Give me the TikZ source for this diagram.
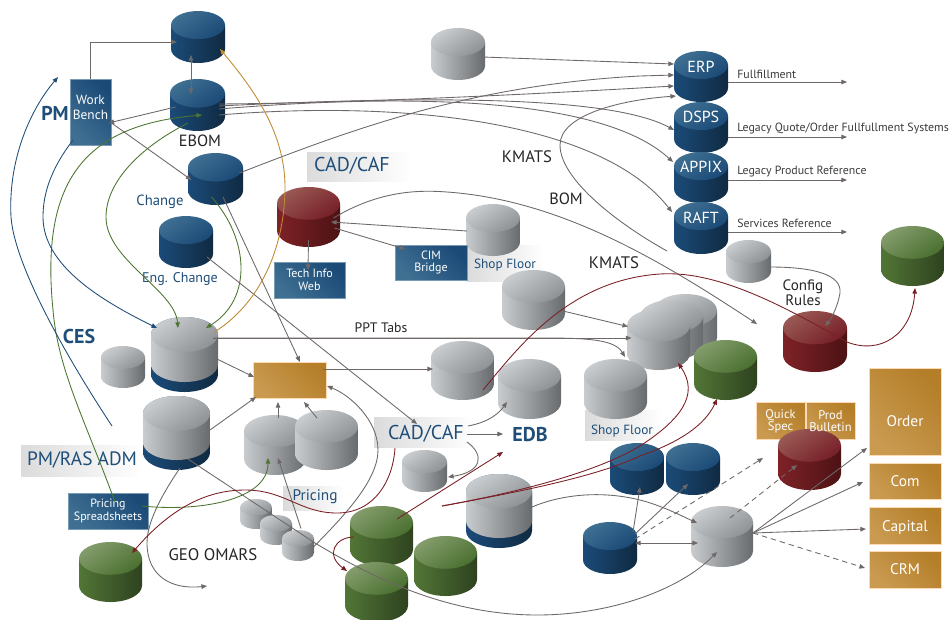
\documentclass[tikz,border=0pt]{standalone}
\usepackage{fontspec}
\setmainfont{PT Sans}
\usetikzlibrary{arrows.meta}
\definecolor{blueTL}{HTML}{3F7092}\definecolor{blueTR}{HTML}{1B4A77}\definecolor{blueBL}{HTML}{1B4B78}\definecolor{blueBR}{HTML}{102A42}
\definecolor{greyTL}{HTML}{C9CDD0}\definecolor{greyTR}{HTML}{8E9295}\definecolor{greyBL}{HTML}{C8CCCF}\definecolor{greyBR}{HTML}{686B6E}
\definecolor{greenTL}{HTML}{849C6C}\definecolor{greenTR}{HTML}{4A7030}\definecolor{greenBL}{HTML}{527636}\definecolor{greenBR}{HTML}{2E421F}
\definecolor{redTL}{HTML}{9A5A55}\definecolor{redTR}{HTML}{761F27}\definecolor{redBL}{HTML}{7E2227}\definecolor{redBR}{HTML}{4C1214}
\definecolor{lineg}{HTML}{6E6868}\definecolor{lineblue}{HTML}{1F4E79}\definecolor{linegreen}{HTML}{4D7530}\definecolor{linered}{HTML}{7A1F26}\definecolor{lineorange}{HTML}{C08A30}
\definecolor{titleblue}{HTML}{1F4E79}\definecolor{darktext}{HTML}{262626}
\newcommand\cylshape[5]{%
 \pgfmathsetmacro\cxa{(#1+#3)/2}\pgfmathsetmacro\rxa{(#3-#1)/2}\pgfmathsetmacro\rya{(#3-#1)*0.26}
 \pgfmathsetmacro\yta{#2+\rya}\pgfmathsetmacro\yba{#4-\rya}\pgfmathsetmacro\kxa{0.5523*\rxa}\pgfmathsetmacro\kya{0.5523*\rya}
 \shade[top color=#5BL,bottom color=#5BR,shading angle=90]
   (#1,\yta) -- (#1,\yba) .. controls (#1,\yba+\kya) and (\cxa-\kxa,#4) .. (\cxa,#4) .. controls (\cxa+\kxa,#4) and (#3,\yba+\kya) .. (#3,\yba) -- (#3,\yta) -- cycle;
 \shade[top color=#5TL,bottom color=#5TR,shading angle=35]
   (#1,\yta) .. controls (#1,\yta-\kya) and (\cxa-\kxa,#2) .. (\cxa,#2) .. controls (\cxa+\kxa,#2) and (#3,\yta-\kya) .. (#3,\yta) .. controls (#3,\yta+\kya) and (\cxa+\kxa,\yta+\rya) .. (\cxa,\yta+\rya) .. controls (\cxa-\kxa,\yta+\rya) and (#1,\yta+\kya) .. (#1,\yta) -- cycle;
}
% name x0 y0 x1 y1 palette
\newcommand\cyl[6]{\cylshape{#2}{#3}{#4}{#5}{#6}
 \node[anchorpt] (#1) at ({(#2+#4)/2},{(#3+#5)/2}) {};}
% two-tone: grey over navy
\newcommand\bicyl[5]{\cylshape{#2}{#3}{#4}{#5}{blue}\cylshape{#2}{#3}{#4}{#5-10}{grey}
 \node[anchorpt] (#1) at ({(#2+#4)/2},{(#3+#5)/2}) {};}
\tikzset{
 x=0.75pt,y=-0.75pt,
 anchorpt/.style={inner sep=0pt,minimum size=0pt,outer sep=0pt},
 arr/.style={draw=lineg,line width=.65pt,-{Triangle[length=4.2pt,width=3.4pt]}},
 arrb/.style={draw=lineg,line width=.65pt,{Triangle[length=4.2pt,width=3.4pt]}-{Triangle[length=4.2pt,width=3.4pt]}},
 arrd/.style={arr,dash pattern=on 4pt off 3pt},
 arrblue/.style={arr,draw=lineblue},
 arrgreen/.style={arr,draw=linegreen},
 arrred/.style={arr,draw=linered},
 arrorange/.style={arr,draw=lineorange},
 bluebox/.style={inner sep=0pt,align=center,text=white,draw=blueTL!70!white,line width=.5pt,bottom color=blueTL,top color=blueTR,shading angle=-45,font=\fontsize{9}{9.6}\selectfont},
 orbox/.style={inner sep=0pt,align=center,text=white,draw=orange!30!white,line width=.5pt,bottom color=orL,top color=orR,shading angle=-45},
 boxtext/.style={inner sep=0pt,align=center,text=white},
 lblblue/.style={text=titleblue,inner sep=0pt},
 lbldark/.style={text=darktext,inner sep=0pt,align=center},
 small/.style={text=darktext!90,inner sep=0pt,anchor=west,font=\fontsize{8.9}{10}\selectfont},
 cyltext/.style={text=white,inner sep=0pt,font=\fontsize{12}{12}\selectfont},
}
\definecolor{orL}{HTML}{C99A50}\definecolor{orR}{HTML}{B57F2A}
\begin{document}
\begin{tikzpicture}
\useasboundingbox (0,0) rectangle (949,619);
\fill[white] (0,0) rectangle (949,619);
% gradient label backgrounds
\shade[left color=black!14,right color=white] (307,152) rectangle (412,181);
\shade[left color=black!14,right color=white] (21,445) rectangle (142,476);
\shade[left color=black!14,right color=white] (283,486) rectangle (345,510);
\shade[left color=black!14,right color=white] (374,417) rectangle (475,447);
\shade[left color=black!14,right color=white] (585,410) rectangle (662,440);
\shade[left color=black!14,right color=white] (467,245) rectangle (545,281);
% cylinders
\cyl{top}{171}{11}{225}{63}{blue}
\cyl{ebom}{170}{79}{225}{131}{blue}
\cyl{chg}{188}{153}{243}{205}{blue}
\cyl{eng}{159}{216}{213}{268}{blue}
\cyl{redc}{277}{187}{340}{247}{red}
\cyl{shopA}{466}{204}{520}{256}{grey}
\cyl{gtop}{431}{28}{485}{80}{grey}
\cyl{erp}{674}{51}{728}{102}{blue}
\cyl{dsps}{674}{102}{728}{153}{blue}
\cyl{appix}{674}{152}{728}{203}{blue}
\cyl{raft}{674}{202}{728}{254}{blue}
\cyl{cfgs}{726}{240}{771}{283}{grey}
\cyl{gtr}{881}{226}{944}{286}{green}
\cyl{cfg}{783}{311}{847}{372}{red}
\cyl{gfive}{502}{270}{565}{330}{grey}
\cyl{stc}{654}{294}{717}{354}{grey}
\cyl{stb}{640}{300}{703}{360}{grey}
\cyl{sta}{627}{309}{690}{370}{grey}
\cyl{gnear}{694}{340}{757}{400}{green}
\cyl{ga}{431}{341}{494}{400}{grey}
\cyl{gb}{498}{359}{561}{419}{grey}
\cyl{shopB}{584}{359}{647}{419}{grey}
\bicyl{ces}{151}{317}{218}{392}
\cyl{sml}{101}{346}{145}{388}{grey}
\bicyl{pras}{143}{396}{210}{470}
\cyl{pca}{244}{415}{306}{475}{grey}
\cyl{pcb}{295}{410}{358}{470}{grey}
\cyl{sa}{240}{499}{272}{529}{grey}
\cyl{sb}{260}{515}{292}{545}{grey}
\cyl{sc}{282}{530}{314}{561}{grey}
\cyl{ggl}{79}{542}{142}{602}{green}
\cyl{smg}{402}{450}{447}{492}{grey}
\bicyl{big}{466}{474}{532}{548}
\cyl{ggb}{414}{536}{477}{596}{green}
\cyl{gga}{350}{506}{413}{566}{green}
\cyl{ggc}{345}{562}{408}{622}{green}
\cyl{ba}{610}{443}{664}{495}{blue}
\cyl{bb}{666}{443}{720}{495}{blue}
\cyl{bl}{583}{522}{637}{574}{blue}
\cyl{hub}{691}{506}{753}{567}{grey}
% boxes
\node[bluebox,minimum width=30.75pt,minimum height=49.5pt] (wb) at (90.5,112) {};
\node[boxtext,font=\fontsize{10}{11.3}\selectfont] at (90.5,107) {Work\\Bench};
\node[bluebox,minimum width=53.25pt,minimum height=27pt] (tech) at (309.5,280) {Tech Info\\Web};
\node[bluebox,minimum width=54pt,minimum height=26.25pt] (cim) at (431,262.5) {CIM\\Bridge};
\node[bluebox,minimum width=60pt,minimum height=27pt] (ss) at (108,511) {Pricing\\Spreadsheets};
\node[orbox,minimum width=54.75pt,minimum height=27pt] (ob) at (289.5,380) {};
\node[orbox,minimum width=36.5pt,minimum height=27.75pt] (qs) at (780.5,420.5) {};
\node[orbox,minimum width=36.5pt,minimum height=27.75pt] (pb) at (830.5,420.5) {};
\cyl{bul}{778}{429}{841}{490}{red}
\node[boxtext,font=\fontsize{9.4}{8.8}\selectfont] at (780.5,421) {Quick\\Spec};
\node[boxtext,font=\fontsize{9.4}{8.8}\selectfont] at (830.5,421) {Prod\\Bulletin};
\node[orbox,minimum width=54pt,minimum height=65.25pt] (order) at (905,411.5) {};
\node[boxtext,font=\fontsize{11.5}{12}\selectfont] at (905,421) {Order};
\node[orbox,minimum width=54pt,minimum height=27pt,font=\fontsize{11.5}{12}\selectfont] (com) at (905,481) {Com};
\node[orbox,minimum width=54pt,minimum height=27.75pt] (cap) at (905,525.5) {};
\node[boxtext,font=\fontsize{11.5}{12}\selectfont] at (905,527.5) {Capital};
\node[orbox,minimum width=54pt,minimum height=27.75pt,font=\fontsize{11.5}{12}\selectfont] (crm) at (905,569.5) {CRM};
% cylinder titles
\node[cyltext] at (701,67) {ERP};
\node[cyltext] at (701,117) {DSPS};
\node[cyltext] at (701,167) {APPIX};
\node[cyltext] at (701,218) {RAFT};
% labels
\node[lblblue,font=\fontsize{15}{15}\selectfont\bfseries] (pm) at (55,113) {PM};
\node[lbldark,font=\fontsize{12.2}{12}\selectfont] at (200,141) {EBOM};
\node[lblblue,font=\fontsize{11}{12}\selectfont] at (160,202) {Change};
\node[lblblue,font=\fontsize{10.5}{12}\selectfont] at (180,279) {Eng. Change};
\node[lblblue,font=\fontsize{15}{15}\selectfont] (cadA) at (352,166) {CAD/CAF};
\node[lblblue,font=\fontsize{10}{12}\selectfont] at (505,265) {Shop Floor};
\node[lbldark,font=\fontsize{12.5}{12}\selectfont] at (527,157) {KMATS};
\node[lbldark,font=\fontsize{12.2}{12}\selectfont] at (566,199) {BOM};
\node[lbldark,font=\fontsize{12.5}{12}\selectfont] at (614,263) {KMATS};
\node[lbldark,font=\fontsize{11.3}{11.5}\selectfont] at (803,293) {Config\\Rules};
\node[lbldark,font=\fontsize{10.3}{10}\selectfont] at (381,328) {PPT Tabs};
\node[lblblue,font=\fontsize{15}{15}\selectfont\bfseries] at (79,336) {CES};
\node[lblblue,font=\fontsize{14.5}{15}\selectfont] at (82,460) {PM/RAS ADM};
\node[lblblue,font=\fontsize{11.5}{12}\selectfont] at (315,497) {Pricing};
\node[lbldark,font=\fontsize{12.6}{12}\selectfont] at (213,555) {GEO OMARS};
\node[lblblue,font=\fontsize{15}{15}\selectfont] (cadB) at (426,434) {CAD/CAF};
\node[lblblue,font=\fontsize{15}{15}\selectfont\bfseries] (edb) at (530,434) {EDB};
\node[lblblue,font=\fontsize{10}{12}\selectfont] at (622,431) {Shop Floor};
\node[small] at (737,74) {Fullfillment};
\node[small] at (737,129) {Legacy Quote/Order Fullfullment Systems};
\node[small] at (737,172) {Legacy Product Reference};
\node[small] at (737,223) {Services Reference};
% free ends
\coordinate (ofa) at (847,82);
\coordinate (ofb) at (847,137);
\coordinate (ofc) at (847,180);
\coordinate (ofd) at (847,232);
\coordinate (kmf) at (667,251);
\coordinate (bomf) at (757,324);
\coordinate (admf) at (112,426);
\coordinate (pmf) at (58,77);
\coordinate (geof) at (207,586);
\coordinate (rfr) at (442,506);
\coordinate (dashf) at (763,458);
% grey connectors
\draw[arr] (wb.north) |- ([shift={(-21,5)}]top.center);
\draw[arrb] ([shift={(-7,18)}]top.center) -- ([shift={(-6.5,-11)}]ebom.center);
\draw[arr] ([shift={(-22,2)}]ebom.center) -- ([shift={(18,11)}]wb.center);
\draw[arr] ([shift={(21,11)}]wb.center) -- ([shift={(-24,1)}]chg.center);
\draw[arr] ([shift={(24,-6)}]chg.center) .. controls (350,130) and (470,85) .. (640,76) -- ([shift={(-27,-1.5)}]erp.center);
\draw[arr] ([shift={(21.5,-1)}]ebom.center) .. controls (350,103) and (520,95) .. ([shift={(-27,9.5)}]erp.center);
\draw[arr] ([shift={(21.5,1)}]ebom.center) .. controls (420,96) and (610,95) .. ([shift={(-27,2.5)}]dsps.center);
\draw[arr] ([shift={(21.5,4)}]ebom.center) .. controls (400,94) and (600,95) .. ([shift={(-28,-15.5)}]appix.center);
\draw[arr] ([shift={(21.5,10)}]ebom.center) .. controls (400,100) and (600,120) .. ([shift={(-29,-16)}]raft.center);
\draw[arr] ([shift={(25,3)}]gtop.center) -- ([shift={(-27,-12.5)}]erp.center);
\draw[arr] (kmf) .. controls (620,225) and (560,180) .. (560,145) .. controls (560,115) and (620,100) .. ([shift={(-25,19.5)}]erp.center);
\draw[arr] ([shift={(27,5.5)}]erp.center) -- (ofa);
\draw[arr] ([shift={(27,9.5)}]dsps.center) -- (ofb);
\draw[arr] ([shift={(27,2.5)}]appix.center) -- (ofc);
\draw[arr] ([shift={(27,4)}]raft.center) -- (ofd);
\draw[arr] ([shift={(0,23)}]redc.center) -- ([shift={(-1.5,-10)}]tech.center);
\draw[arr] ([shift={(-26,1)}]shopA.center) -- ([shift={(22.5,5)}]redc.center);
\draw[arr] ([shift={(26,11)}]redc.center) -- ([shift={(-26,-13.5)}]cim.center);
\draw[arr] ([shift={(25,1)}]redc.center) .. controls (380,190) and (420,190) .. (447,192) .. controls (560,200) and (660,260) .. (bomf);
\draw[arr] ([shift={(21.5,5.5)}]cfgs.center) .. controls (815,267) and (842,275) .. (840,293) .. controls (838,305) and (832,318) .. ([shift={(10,-15.5)}]cfg.center);
\draw[arr] ([shift={(28.5,-16.5)}]ces.center) -- ([shift={(-27,-1.5)}]sta.center);
\draw[arr] ([shift={(28.5,-16.5)}]ces.center) -- (545,338) .. controls (590,338) and (615,340) .. ([shift={(9.5,-32)}]shopB.center);
\draw[arr] ([shift={(29.5,11)}]gfive.center) -- ([shift={(-30.5,-13)}]sta.center);
\draw[arr] ([shift={(32.5,4.5)}]ces.center) -- ([shift={(-35.5,-3)}]ob.center);
\draw[arr] ([shift={(33.5,-3)}]pras.center) -- ([shift={(-33.5,17)}]ob.center);
\draw[arr] ([shift={(3,-27)}]pca.center) -- ([shift={(-11.5,22)}]ob.center);
\draw[arr] ([shift={(-9.5,-22)}]pcb.center) -- ([shift={(14.5,22)}]ob.center);
\draw[arr] ([shift={(33.5,-11)}]ob.center) -- ([shift={(-29.5,-1.5)}]ga.center);
\draw[arr] ([shift={(15,2)}]sc.center) .. controls (345,515) and (378,480) .. (378,450) .. controls (378,420) and (350,395) .. ([shift={(37.5,6)}]ob.center);
\draw[arr] ([shift={(3,-17)}]sc.center) -- ([shift={(3,13)}]pca.center);
\draw[arr] ([shift={(11.5,26)}]pras.center) -- (315,543) .. controls (360,570) and (440,615) .. (537,615) .. controls (610,615) and (680,590) .. ([shift={(-5,15.5)}]hub.center);
\draw[arr] ([shift={(3.5,35)}]pras.center) .. controls (165,490) and (147,520) .. (147,543) .. controls (147,575) and (170,590) .. (geof);
\draw[arr] ([shift={(33,-4)}]big.center) .. controls (560,495) and (600,490) .. (640,500) .. controls (660,505) and (680,515) .. ([shift={(-25,-13.5)}]hub.center);
\draw[arr] ([shift={(23,-16)}]bl.center) -- ([shift={(3,18)}]ba.center);
\draw[arr] ([shift={(25,-14)}]bl.center) -- ([shift={(-5,15)}]bb.center);
\draw[arrd] ([shift={(25,-9)}]bl.center) -- (dashf);
\draw[arrb] ([shift={(25,-5)}]bl.center) -- ([shift={(-24,6.5)}]hub.center);
\draw[arrd] ([shift={(8,-18.5)}]hub.center) -- ([shift={(-12.5,5.5)}]bul.center);
\draw[arr] ([shift={(31,-3.5)}]hub.center) -- ([shift={(-38,36.5)}]order.center);
\draw[arr] ([shift={(31,-3.5)}]hub.center) -- ([shift={(-42,1)}]com.center);
\draw[arr] ([shift={(31,-3.5)}]hub.center) -- ([shift={(-39,3.5)}]cap.center);
\draw[arrd] ([shift={(31,-3.5)}]hub.center) -- ([shift={(-40,-1.5)}]crm.center);
\draw[arr] ([shift={(41,0)}]cadB.center) -- ([shift={(-27,0)}]edb.center);
\draw[arr] ([shift={(42,-8)}]cadB.center) .. controls (490,422) and (500,412) .. ([shift={(-22.5,13)}]gb.center);
\draw[arr] ([shift={(41,8)}]cadB.center) .. controls (485,455) and (482,472) .. ([shift={(23.5,6)}]smg.center);
\draw[arr] ([shift={(21,15)}]eng.center) -- ([shift={(-9,-10)}]cadB.center);
\draw[arr] ([shift={(7.5,18)}]chg.center) -- ([shift={(10.5,-18)}]ob.center);
% green
\draw[arrgreen] ([shift={(-4,18)}]chg.center) .. controls (250,240) and (252,300) .. ([shift={(21.5,-26.5)}]ces.center);
\draw[arrgreen] ([shift={(-9.5,18)}]ebom.center) .. controls (135,150) and (106,185) .. (106,217) .. controls (106,260) and (175,290) .. ([shift={(-6.5,-26.5)}]ces.center);
\draw[arrgreen] ([shift={(7,-9)}]ss.center) .. controls (85,420) and (58,370) .. (53,310) .. controls (40,180) and (85,125) .. ([shift={(4.5,10)}]ebom.center);
\draw[arrgreen] ([shift={(34,-5)}]ss.center) .. controls (200,512) and (268,500) .. ([shift={(-7,13)}]pca.center);
% blue
\draw[arrblue] ([shift={(-17.5,28)}]wb.center) .. controls (50,170) and (43,195) .. (43,217) .. controls (43,265) and (100,300) .. ([shift={(-27.5,-26.5)}]ces.center);
\draw[arrblue] (admf) .. controls (75,370) and (15,270) .. (11,217) .. controls (8,160) and (30,110) .. (pmf);
% orange
\draw[arrorange] ([shift={(30,-22.5)}]ces.center) .. controls (265,300) and (285,240) .. (285,187) .. controls (285,130) and (250,85) .. ([shift={(22,12)}]top.center);
% red
\draw[arrred] ([shift={(20.5,19.5)}]ga.center) .. controls (520,345) and (570,280) .. (660,274) .. controls (720,270) and (790,310) .. (847,342) .. controls (880,355) and (912,335) .. ([shift={(2.5,32)}]gtr.center);
\draw[arrred] ([shift={(-31,14)}]cadB.center) .. controls (393,480) and (375,513) .. (337,513) .. controls (300,513) and (285,490) .. (245,490) .. controls (200,490) and (165,515) .. ([shift={(21.5,-19)}]ggl.center);
\draw[arrred] ([shift={(15.5,-17)}]gga.center) -- ([shift={(-27,18)}]edb.center);
\draw[arrred] ([shift={(-27.5,1)}]gga.center) .. controls (335,537) and (325,555) .. ([shift={(-29.5,-21)}]ggc.center);
\draw[arrred] (rfr) .. controls (530,490) and (600,470) .. (640,446) .. controls (680,420) and (700,395) .. ([shift={(19.5,23.5)}]sta.center);
\draw[arrred] (rfr) .. controls (530,490) and (600,475) .. (640,456) .. controls (680,442) and (705,425) .. ([shift={(-8.5,29)}]gnear.center);
\end{tikzpicture}
\end{document}
